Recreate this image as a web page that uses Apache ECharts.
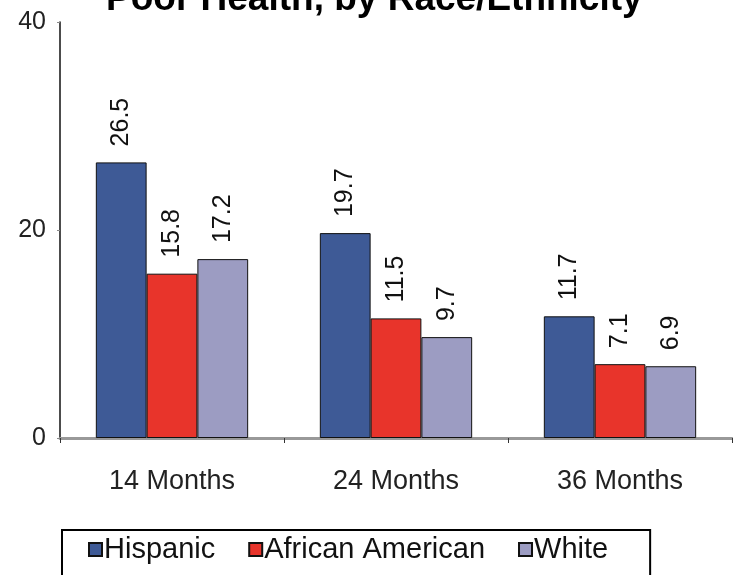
<!DOCTYPE html>
<html>
<head>
<meta charset="utf-8">
<script src="https://cdn.jsdelivr.net/npm/echarts@6/dist/echarts.min.js"></script>
<style>
    html, body { margin: 0; padding: 0; background: #fff; }
    #chart { width: 733px; height: 575px; }
</style>
</head>
<body>
<div id="chart"></div>
<script>
    const categories = ['14 Months', '24 Months', '36 Months']
    const hispanic = [26.5, 19.7, 11.7]
    const africanAmerican = [15.8, 11.5, 7.1]
    const white = [17.2, 9.7, 6.9]

    const myChart = echarts.init(document.getElementById('chart'))

    function barSeries(name, data, color) {
        return {
            name: name,
            type: 'bar',
            data: data,
            barGap: '0%',
            barCategoryGap: '32%',
            itemStyle: {
                color: color,
                borderColor: '#111',
                borderWidth: 1
            },
            label: {
                show: true,
                position: 'top',
                rotate: 90,
                align: 'left',
                verticalAlign: 'middle',
                distance: 16,
                color: '#111',
                fontFamily: 'Liberation Sans',
                fontSize: 25,
                formatter: p => p.value.toFixed(1)
            }
        }
    }

    myChart.setOption({
        animation: false,
        title: {
            text: 'Poor Health, by Race/Ethnicity',
            left: 101,
            top: -24,
            textStyle: {
                fontFamily: 'Liberation Sans',
                fontWeight: 'bold',
                fontSize: 37,
                color: '#000'
            }
        },
        grid: {
            left: 60,
            right: 1,
            top: 22,
            bottom: 137
        },
        legend: {
            left: 62,
            top: 530,
            padding: [5, 42, 20, 26],
            itemGap: 33,
            itemWidth: 13,
            itemHeight: 13,
            icon: 'rect',
            borderColor: '#000',
            borderWidth: 2,
            textStyle: {
                fontFamily: 'Liberation Sans',
                fontSize: 29,
                color: '#111',
                padding: [0, 0, 0, -3]
            },
            data: ['Hispanic', 'African American', 'White']
        },
        xAxis: {
            type: 'category',
            data: categories,
            axisLine: { lineStyle: { color: '#999', width: 3 } },
            axisTick: { show: true, length: 5, lineStyle: { color: '#333' } },
            axisLabel: {
                margin: 30,
                fontFamily: 'Liberation Sans',
                fontSize: 27,
                color: '#222'
            }
        },
        yAxis: {
            type: 'value',
            min: 0,
            max: 40,
            interval: 20,
            axisLine: { show: true, lineStyle: { color: '#111', width: 1.5 } },
            axisTick: { show: true, length: 3, lineStyle: { color: '#888' } },
            splitLine: { show: false },
            axisLabel: {
                margin: 14,
                fontFamily: 'Liberation Sans',
                fontSize: 25,
                color: '#222'
            }
        },
        series: [
            barSeries('Hispanic', hispanic, '#3e5a96'),
            barSeries('African American', africanAmerican, '#e8342b'),
            barSeries('White', white, '#9c9cc2')
        ]
    })
</script>
</body>
</html>
